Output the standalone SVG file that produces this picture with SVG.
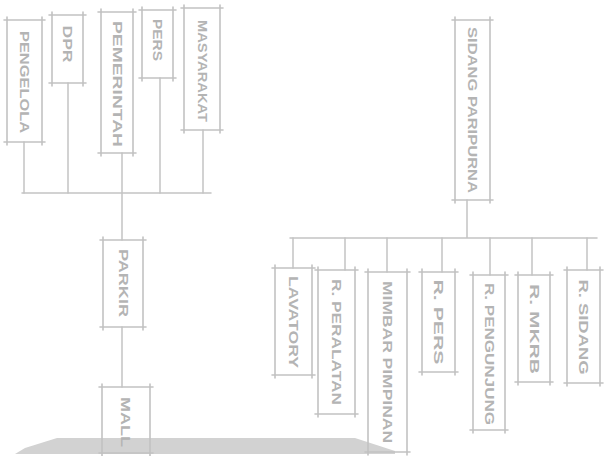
<svg xmlns="http://www.w3.org/2000/svg" width="605" height="456" viewBox="0 0 605 456">
<style>
.b{fill:none;stroke:#c2c2c2;stroke-width:1.6;stroke-linecap:round}
.c{fill:none;stroke:#c4c4c4;stroke-width:1.5;stroke-linecap:round}
.t{font-family:"Liberation Sans",Arial,sans-serif;font-size:13px;font-weight:bold;fill:#b4b4b4;text-anchor:middle;dominant-baseline:central}
</style>
<rect width="605" height="456" fill="#ffffff"/>
<polygon points="15,454 25,448 57,438 355,438 395,451 395,454" fill="#d2d2d2"/>
<g id="connectors">
<path class="c" d="M22,193 H211"/>
<path class="c" d="M24,142 V193 M68,83 V193 M160,78 V193 M203,130 V193"/>
<path class="c" d="M122,153 V240 M122,327 V387"/>
<path class="c" d="M467,200 V238 M290,238 H597"/>
<path class="c" d="M293,238 V268 M345,238 V270 M387,238 V272 M442,238 V272 M490,238 V275 M532,238 V275 M587,238 V270"/>
</g>
<g id="pengelola"><path class="b" d="M4,20 H45 M42,17 V145 M45,142 H4 M7,145 V17"/><text class="t" transform="translate(24.5,82) rotate(90)" textLength="102" lengthAdjust="spacingAndGlyphs">PENGELOLA</text></g>
<g id="dpr"><path class="b" d="M49,15 H86 M83,12 V86 M86,83 H49 M52,86 V12"/><text class="t" transform="translate(67.5,44) rotate(90)" textLength="37" lengthAdjust="spacingAndGlyphs">DPR</text></g>
<g id="pemerintah"><path class="b" d="M98,12 H136 M133,9 V156 M136,153 H98 M101,156 V9"/><text class="t" transform="translate(117,84) rotate(90)" textLength="126" lengthAdjust="spacingAndGlyphs">PEMERINTAH</text></g>
<g id="pers"><path class="b" d="M139,10 H176 M173,7 V81 M176,78 H139 M142,81 V7"/><text class="t" transform="translate(157.5,40) rotate(90)" textLength="42" lengthAdjust="spacingAndGlyphs">PERS</text></g>
<g id="masyarakat"><path class="b" d="M181,8 H223 M220,5 V133 M223,130 H181 M184,133 V5"/><text class="t" transform="translate(202,71) rotate(90)" textLength="102" lengthAdjust="spacingAndGlyphs">MASYARAKAT</text></g>
<g id="parkir"><path class="b" d="M100,240 H146 M143,237 V330 M146,327 H100 M103,330 V237"/><text class="t" transform="translate(123,283) rotate(90)" textLength="68" lengthAdjust="spacingAndGlyphs">PARKIR</text></g>
<g id="mall"><path class="b" d="M99,387 H153 M150,384 V456 M153,453 H99 M102,456 V384"/><text class="t" transform="translate(125,422) rotate(90)" textLength="50" lengthAdjust="spacingAndGlyphs">MALL</text></g>
<g id="sidang-paripurna"><path class="b" d="M452,20 H493 M490,17 V203 M493,200 H452 M455,203 V17"/><text class="t" transform="translate(472.5,110) rotate(90)" textLength="166" lengthAdjust="spacingAndGlyphs">SIDANG PARIPURNA</text></g>
<g id="lavatory"><path class="b" d="M272,268 H315 M312,265 V378 M315,375 H272 M275,378 V265"/><text class="t" transform="translate(293.5,322) rotate(90)" textLength="92" lengthAdjust="spacingAndGlyphs">LAVATORY</text></g>
<g id="r-peralatan"><path class="b" d="M315,270 H358 M355,267 V417 M358,414 H315 M318,417 V267"/><text class="t" transform="translate(336.5,342) rotate(90)" textLength="126" lengthAdjust="spacingAndGlyphs">R. PERALATAN</text></g>
<g id="mimbar-pimpinan"><path class="b" d="M365,272 H410 M407,269 V455 M410,452 H365 M368,455 V269"/><text class="t" transform="translate(387.5,362) rotate(90)" textLength="162" lengthAdjust="spacingAndGlyphs">MIMBAR PIMPINAN</text></g>
<g id="r-pers"><path class="b" d="M419,272 H458 M455,269 V375 M458,372 H419 M422,375 V269"/><text class="t" transform="translate(438.5,322) rotate(90)" textLength="85" lengthAdjust="spacingAndGlyphs">R. PERS</text></g>
<g id="r-pengunjung"><path class="b" d="M470,275 H508 M505,272 V433 M508,430 H470 M473,433 V272"/><text class="t" transform="translate(489,354) rotate(90)" textLength="142" lengthAdjust="spacingAndGlyphs">R. PENGUNJUNG</text></g>
<g id="r-mkrb"><path class="b" d="M515,275 H553 M550,272 V385 M553,382 H515 M518,385 V272"/><text class="t" transform="translate(534,329) rotate(90)" textLength="90" lengthAdjust="spacingAndGlyphs">R. MKRB</text></g>
<g id="r-sidang"><path class="b" d="M564,270 H603 M600,267 V386 M603,383 H564 M567,386 V267"/><text class="t" transform="translate(583.5,327) rotate(90)" textLength="95" lengthAdjust="spacingAndGlyphs">R. SIDANG</text></g>
</svg>
